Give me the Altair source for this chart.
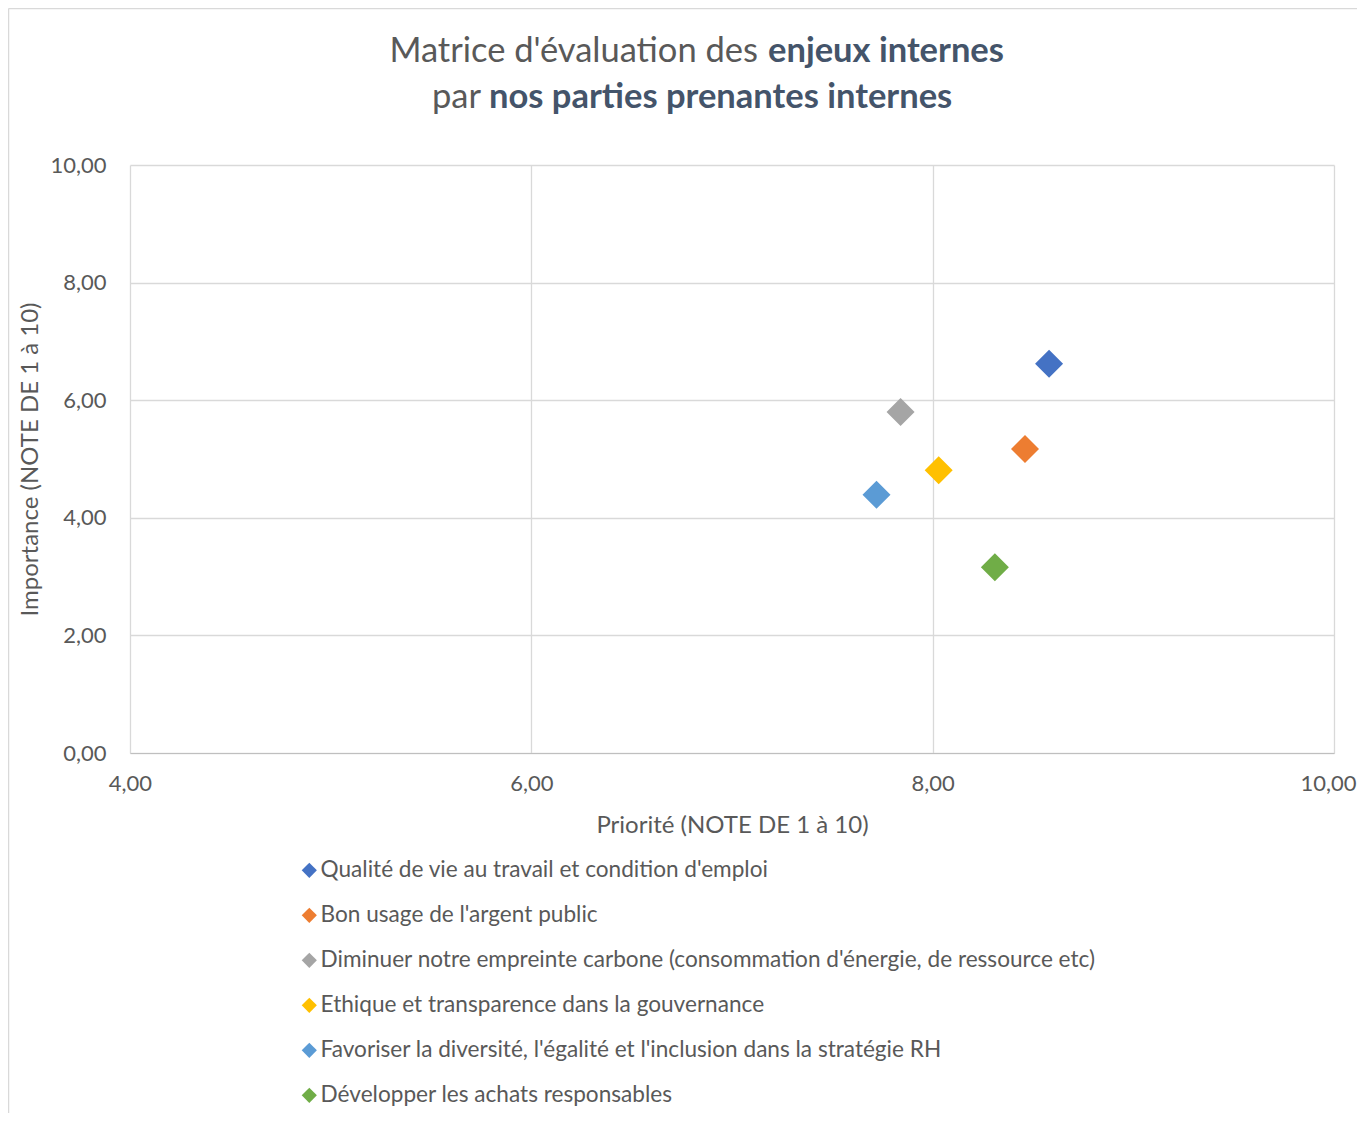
import altair as alt
import pandas as pd

categories = [
    "Qualité de vie au travail et condition d'emploi",
    "Bon usage de l'argent public",
    "Diminuer notre empreinte carbone (consommation d'énergie, de ressource etc)",
    "Ethique et transparence dans la gouvernance",
    "Favoriser la diversité, l'égalité et l'inclusion dans la stratégie RH",
    "Développer les achats responsables",
]
priorite = [8.58, 8.46, 7.84, 8.03, 7.72, 8.31]
importance = [6.62, 5.17, 5.80, 4.81, 4.39, 3.16]
colors = ["#4472C4", "#ED7D31", "#A5A5A5", "#FFC000", "#5B9BD5", "#70AD47"]

title_regular = ["Matrice d'évaluation des", "par"]
title_bold = ["enjeux internes", "nos parties prenantes internes"]

FONT = "Lato"
GREY = "#595959"
TITLE_BOLD = "#44546A"

df = pd.DataFrame({"cat": categories, "x": priorite, "y": importance})

fmt = "replace(format(datum.value, '.2f'), '.', ',')"

points = alt.Chart(df).mark_point(filled=True, shape="diamond", size=784, opacity=1).encode(
    x=alt.X("x:Q", title="Priorité (NOTE DE 1 à 10)",
            scale=alt.Scale(domain=[4, 10], nice=False, zero=False),
            axis=alt.Axis(values=[4, 6, 8, 10], labelExpr=fmt, grid=True, ticks=False,
                          labelFlush=False, domainColor="#BFBFBF",
                          labelOffset={"condition": {"test": "datum.value == 10", "value": -6}, "value": 0},
                          labelPadding=20, titlePadding=19)),
    y=alt.Y("y:Q", title="Importance (NOTE DE 1 à 10)",
            scale=alt.Scale(domain=[0, 10], nice=False),
            axis=alt.Axis(values=[0, 2, 4, 6, 8, 10], labelExpr=fmt, grid=True, ticks=False,
                          labelFlush=False, domain=False, labelPadding=24, titlePadding=7)),
    color=alt.Color("cat:N", scale=alt.Scale(domain=categories, range=colors),
                    legend=alt.Legend(title=None, orient="none", legendX=168, legendY=694,
                                      direction="vertical", symbolType="diamond",
                                      symbolSize=230, symbolStrokeWidth=0,
                                      labelFontSize=22.6, labelFont=FONT, labelColor=GREY,
                                      labelOffset=0, rowPadding=22, padding=0,
                                      labelLimit=1000)),
)

t1 = alt.Chart(pd.DataFrame({"t": [title_regular[0]]})).mark_text(
    align="right", baseline="alphabetic", font=FONT, fontSize=34.5, color=GREY
).encode(text="t:N", x=alt.value(628), y=alt.value(-103))
t2 = alt.Chart(pd.DataFrame({"t": [title_bold[0]]})).mark_text(
    align="left", baseline="alphabetic", font=FONT, fontSize=34.5, fontWeight="bold", color=TITLE_BOLD
).encode(text="t:N", x=alt.value(638), y=alt.value(-103))
t3 = alt.Chart(pd.DataFrame({"t": [title_regular[1]]})).mark_text(
    align="right", baseline="alphabetic", font=FONT, fontSize=34.5, color=GREY
).encode(text="t:N", x=alt.value(351), y=alt.value(-57))
t4 = alt.Chart(pd.DataFrame({"t": [title_bold[1]]})).mark_text(
    align="left", baseline="alphabetic", font=FONT, fontSize=34.5, fontWeight="bold", color=TITLE_BOLD
).encode(text="t:N", x=alt.value(359), y=alt.value(-57))

frame_left = alt.Chart(pd.DataFrame({"a": [0]})).mark_rule(color="#D9D9D9", strokeWidth=1.5).encode(
    x=alt.value(-121.5), y=alt.value(-156.5), y2=alt.value(960))
frame_top = alt.Chart(pd.DataFrame({"a": [0]})).mark_rule(color="#D9D9D9", strokeWidth=1.5).encode(
    x=alt.value(-121.5), x2=alt.value(1230), y=alt.value(-156.5))

chart = alt.layer(frame_left, frame_top, points, t1, t2, t3, t4).properties(
    width=1204, height=588,
    autosize=alt.AutoSizeParams(type="none"),
    padding={"left": 122, "top": 157, "right": 23, "bottom": 360},
).configure_axis(
    labelFont=FONT, labelFontSize=22, labelColor=GREY,
    titleFont=FONT, titleFontSize=24, titleFontWeight="normal", titleColor=GREY,
    gridColor="#D9D9D9", gridWidth=1.3,
).configure_view(stroke=None)

chart.save("out.html", embed_options={"renderer": "svg", "actions": False})
